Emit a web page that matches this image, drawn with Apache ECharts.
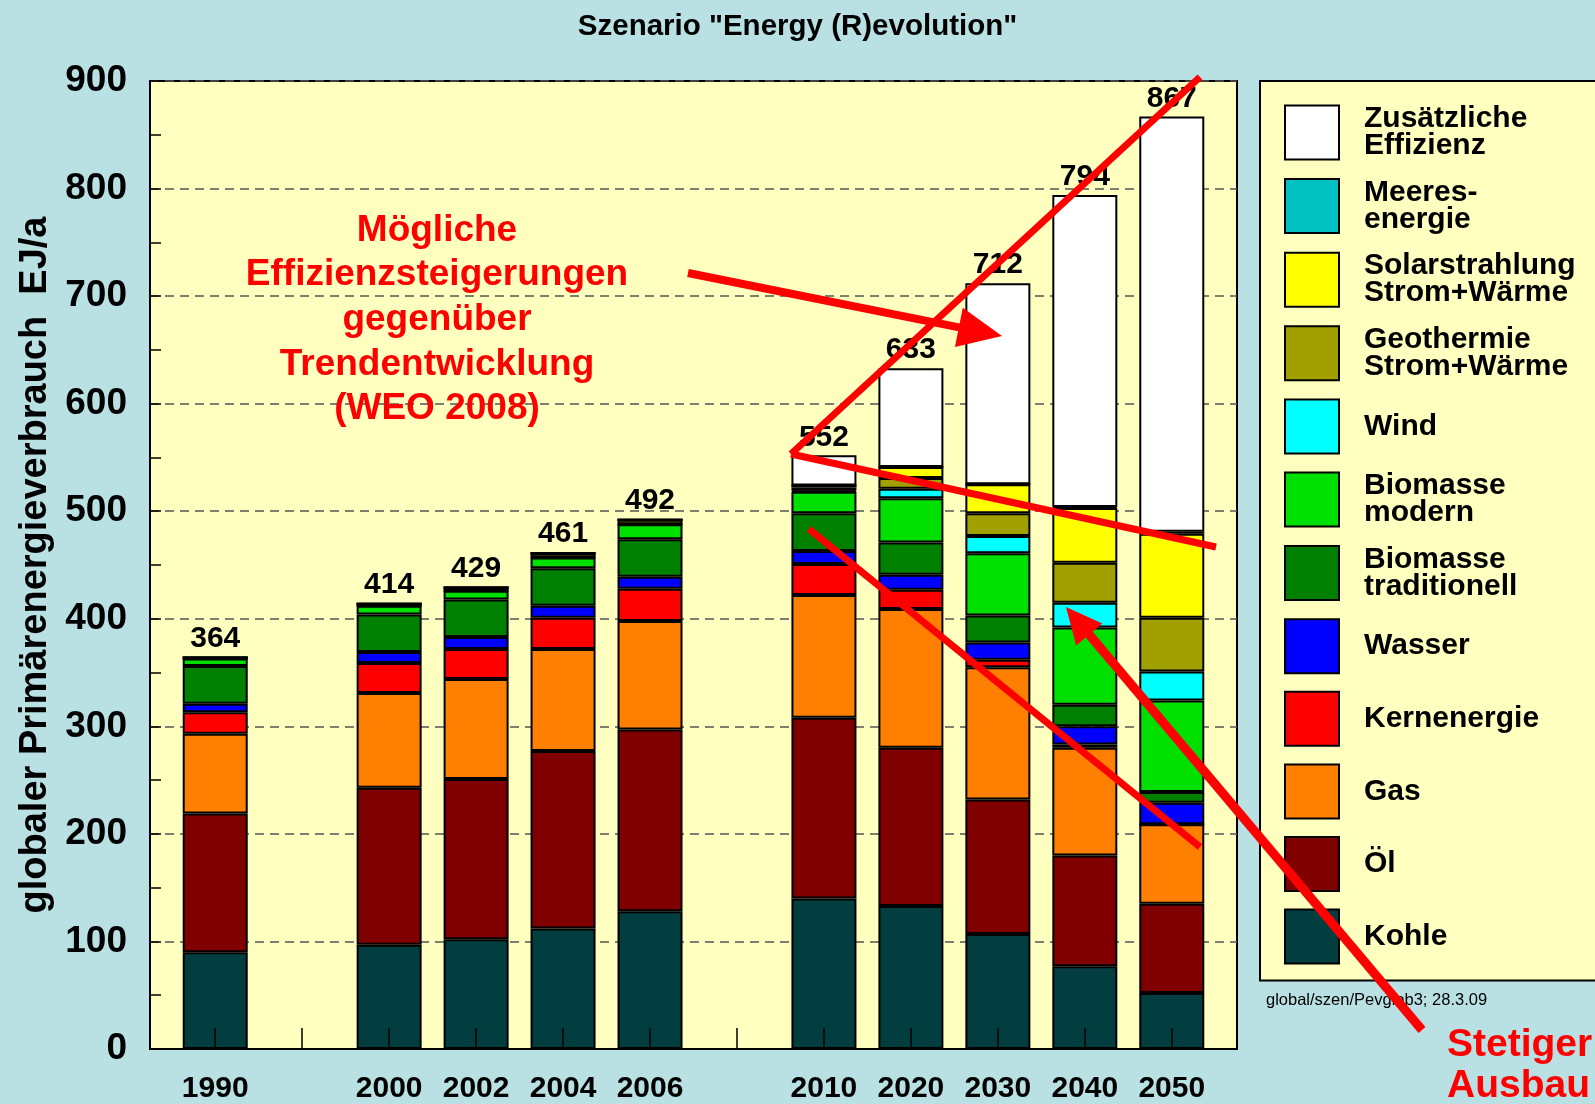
<!DOCTYPE html>
<html>
<head>
<meta charset="utf-8">
<script src="https://cdn.jsdelivr.net/npm/echarts@6/dist/echarts.min.js"></script>
<style>
  html, body { margin: 0; padding: 0; background: #b9e0e3; }
  #chart { width: 1595px; height: 1104px; }
</style>
</head>
<body>
<div id="chart"></div>
<script>
// years shown as bars, and their slot on the axis (gaps at slot 1 and 6)
const years = ['1990', '2000', '2002', '2004', '2006', '2010', '2020', '2030', '2040', '2050'];
const slots = [0, 2, 3, 4, 5, 7, 8, 9, 10, 11];

// EJ/a
const kohle      = [90, 97, 102, 112, 128, 140, 133, 107, 77, 52];
const oel        = [129, 146, 149, 165, 169, 168, 147, 125, 103, 83];
const gas        = [74, 88, 93, 95, 101, 114, 129, 123, 100, 74];
const kern       = [20, 28, 28, 29, 30, 29, 18, 7, 3, 0];
const wasser     = [8, 10, 11, 11, 11, 12, 14, 16, 17, 20];
const bioTrad    = [35, 35, 35, 35, 35, 35, 30, 25, 20, 10];
const bioMod     = [7, 8, 8, 10, 14, 20, 41, 58, 72, 85];
const wind       = [0, 0, 0, 0, 0, 1, 9, 16, 23, 27];
const geo        = [1, 2, 3, 4, 4, 3, 10, 21, 37, 50];
const solar      = [0, 0, 0, 0, 0, 2, 10, 27, 51, 78];
const meeres     = [0, 0, 0, 0, 0, 0, 0, 0, 1, 2];
const effizienz  = [0, 0, 0, 0, 0, 28, 92, 187, 290, 386];
const totals     = [364, 414, 429, 461, 492, 552, 633, 712, 794, 867];

const yTicks = [0, 100, 200, 300, 400, 500, 600, 700, 800, 900];

const FONT = '"Liberation Sans", Arial, Helvetica, sans-serif';

// half-slot categories so the plot has 3/4 of a slot of room at each end
const nCats = 25;
const categories = [];
for (let i = 0; i < nCats; i++) categories.push('x' + i);
slots.forEach((s, i) => { categories[1 + 2 * s] = years[i]; });

function expand(vals) {
  const arr = new Array(nCats).fill(null);
  slots.forEach((s, i) => { arr[1 + 2 * s] = vals[i]; });
  return arr;
}

const seriesDefs = [
  { name: 'Kohle', data: kohle, color: '#023d40' },
  { name: 'Öl', data: oel, color: '#800000' },
  { name: 'Gas', data: gas, color: '#ff8000' },
  { name: 'Kernenergie', data: kern, color: '#ff0000' },
  { name: 'Wasser', data: wasser, color: '#0000ff' },
  { name: 'Biomasse traditionell', data: bioTrad, color: '#008000' },
  { name: 'Biomasse modern', data: bioMod, color: '#00e000' },
  { name: 'Wind', data: wind, color: '#00ffff' },
  { name: 'Geothermie Strom+Wärme', data: geo, color: '#a0a000' },
  { name: 'Solarstrahlung Strom+Wärme', data: solar, color: '#ffff00' },
  { name: 'Meeresenergie', data: meeres, color: '#00c0c0' },
  { name: 'Zusätzliche Effizienz', data: effizienz, color: '#ffffff' }
];

const legendLabels = {
  'Zusätzliche Effizienz': 'Zusätzliche\nEffizienz',
  'Meeresenergie': 'Meeres-\nenergie',
  'Solarstrahlung Strom+Wärme': 'Solarstrahlung\nStrom+Wärme',
  'Geothermie Strom+Wärme': 'Geothermie\nStrom+Wärme',
  'Biomasse modern': 'Biomasse\nmodern',
  'Biomasse traditionell': 'Biomasse\ntraditionell'
};

const series = seriesDefs.map((d, k) => {
  const s = {
    name: d.name,
    type: 'bar',
    stack: 'pev',
    barWidth: 65,
    data: expand(d.data),
    itemStyle: { color: d.color, borderColor: '#000', borderWidth: 2 }
  };
  if (k === seriesDefs.length - 1) {
    s.label = {
      show: true,
      position: 'top',
      distance: 3,
      fontFamily: FONT,
      fontSize: 30,
      fontWeight: 'bold',
      color: '#000',
      formatter: p => String(totals[years.indexOf(p.name)])
    };
  }
  return s;
});

// red annotation strokes
const RED = '#ff0000';
function stroke(x1, y1, x2, y2, w) {
  return { type: 'line', z: 100, shape: { x1, y1, x2, y2 }, style: { stroke: RED, lineWidth: w } };
}
function arrow(x1, y1, x2, y2, w, len, half) {
  const dx = x2 - x1, dy = y2 - y1, L = Math.hypot(dx, dy);
  const ux = dx / L, uy = dy / L;
  const bx = x2 - ux * len, by = y2 - uy * len;
  return [
    stroke(x1, y1, bx + ux * 4, by + uy * 4, w),
    { type: 'polygon', z: 100, shape: { points: [[x2, y2], [bx - uy * half, by + ux * half], [bx + uy * half, by - ux * half]] }, style: { fill: RED } }
  ];
}

const graphics = [
  {
    type: 'text', z: 1,
    style: {
      text: 'Mögliche\nEffizienzsteigerungen\ngegenüber\nTrendentwicklung\n(WEO 2008)',
      x: 437, y: 208, align: 'center', verticalAlign: 'top',
      lineHeight: 44.7, font: 'bold 37px ' + FONT, fill: RED
    }
  },
  {
    type: 'text', z: 100,
    style: {
      text: 'Stetiger\nAusbau', x: 1447, y: 1025, align: 'left', verticalAlign: 'top',
      lineHeight: 41, font: 'bold 39px ' + FONT, fill: RED
    }
  },
  {
    type: 'text', z: 100,
    style: {
      text: 'global/szen/Pevglob3; 28.3.09', x: 1266, y: 1000, align: 'left', verticalAlign: 'middle',
      font: '16.5px ' + FONT, fill: '#000'
    }
  },
  stroke(791, 454, 1200, 77, 7),
  stroke(791, 454, 1216, 547, 7),
  stroke(809, 529, 1200, 847, 7),
  ...arrow(688, 273, 1002, 336, 8, 44, 20),
  ...arrow(1422, 1030, 1066, 607, 9, 36, 17)
];

const chart = echarts.init(document.getElementById('chart'), null, { renderer: 'canvas' });
chart.setOption({
  backgroundColor: '#b9e0e3',
  animation: false,
  title: {
    text: 'Szenario "Energy (R)evolution"',
    left: 'center',
    top: 7,
    textStyle: { fontFamily: FONT, fontSize: 29.5, fontWeight: 'bold', color: '#000' }
  },
  grid: {
    left: 150, top: 81, right: 358, bottom: 53,
    show: true, backgroundColor: '#ffffc0', borderColor: '#000', borderWidth: 2
  },
  legend: {
    orient: 'vertical',
    left: 1260, top: 81,
    padding: [23, 40, 16, 24],
    itemWidth: 54, itemHeight: 54, itemGap: 16.6,
    icon: 'rect',
    selectedMode: false,
    backgroundColor: '#ffffc0', borderColor: '#000', borderWidth: 2,
    data: seriesDefs.map(d => d.name).reverse(),
    formatter: name => legendLabels[name] || name,
    textStyle: {
      fontFamily: FONT, fontSize: 30, fontWeight: 'bold', color: '#000',
      lineHeight: 27, padding: [0, 0, 0, 20]
    }
  },
  xAxis: {
    type: 'category',
    data: categories,
    z: 5,
    axisLine: { show: true, lineStyle: { color: '#000', width: 2 } },
    axisTick: {
      show: true, inside: true, length: 21, alignWithLabel: true,
      interval: (i) => i % 2 === 1,
      lineStyle: { color: '#000', width: 1.5 }
    },
    axisLabel: {
      interval: 0, margin: 25,
      fontFamily: FONT, fontSize: 30, fontWeight: 'bold', color: '#000',
      formatter: v => (v.charAt(0) === 'x' ? '' : v)
    },
    splitLine: { show: false }
  },
  yAxis: {
    type: 'value',
    min: yTicks[0], max: yTicks[yTicks.length - 1], interval: 100,
    name: 'globaler Primärenergieverbrauch  EJ/a',
    nameLocation: 'middle',
    nameGap: 95,
    nameTextStyle: { fontFamily: FONT, fontSize: 38, fontWeight: 'bold', color: '#000' },
    axisLine: { show: true, lineStyle: { color: '#000', width: 2 } },
    axisTick: { show: true, inside: true, length: 11, lineStyle: { color: '#000', width: 1.5 } },
    minorTick: { show: true, splitNumber: 2, length: 11, lineStyle: { color: '#000', width: 1.5 } },
    axisLabel: {
      margin: 23, fontFamily: FONT, fontSize: 37, fontWeight: 'bold', color: '#000',
      customValues: yTicks
    },
    splitLine: { show: true, lineStyle: { color: '#555', width: 1.5, type: [9, 6] } }
  },
  series: series,
  graphic: graphics
});
</script>
</body>
</html>
